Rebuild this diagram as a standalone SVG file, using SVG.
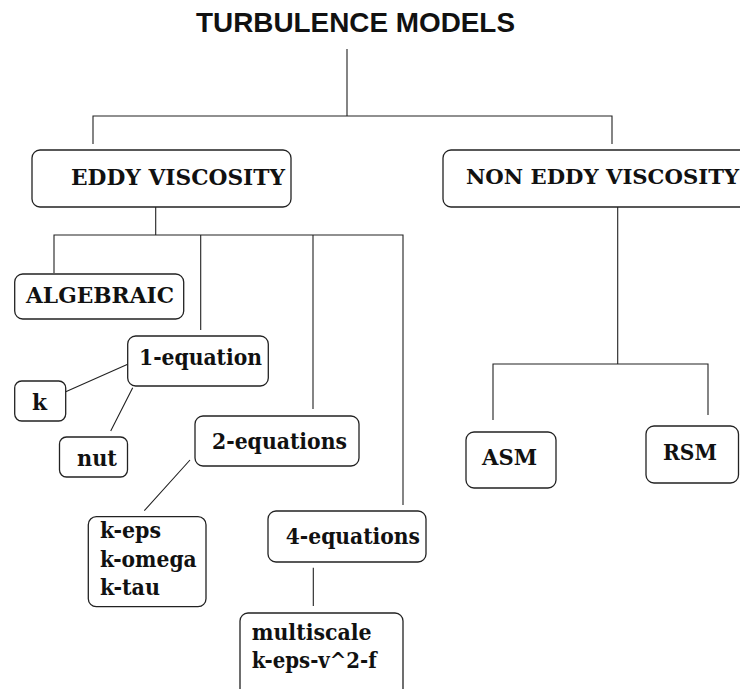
<svg xmlns="http://www.w3.org/2000/svg" width="740" height="689" viewBox="0 0 740 689">
<style>
.box{fill:#fff;stroke:#222;stroke-width:1.3}
.lbl{font-family:"DejaVu Serif","Liberation Serif",serif;font-weight:bold;font-size:22px;fill:#111}
.title{font-family:"Liberation Sans",Arial,sans-serif;font-weight:bold;font-size:28px;fill:#111}
.conn{fill:none;stroke:#222;stroke-width:1.1}
</style>
<rect width="740" height="689" fill="#fff"/>
<g id="title"><text class="title" x="196" y="32" textLength="319" lengthAdjust="spacingAndGlyphs">TURBULENCE MODELS</text></g>
<g id="connectors">
<path class="conn" d="M347,49 V116 M93,144 V116 H612 V144"/>
<path class="conn" d="M155.7,207 V235 M54,273 V235 H403 V505 M200.7,235 V330 M313,235 V409"/>
<path class="conn" d="M65.7,391.7 L127.7,364.3 M132.7,387.7 L110.7,431 M190,460 L144.3,510.7 M313.3,567.7 V606"/>
<path class="conn" d="M617.7,207 V364 M493,420 V364 H708 V415"/>
</g>
<g id="eddy"><rect class="box" x="32" y="150" width="259" height="57" rx="8"/><text class="lbl" x="71" y="185" textLength="214" lengthAdjust="spacingAndGlyphs">EDDY VISCOSITY</text></g>
<g id="noneddy"><rect class="box" x="443" y="150" width="305" height="57" rx="8"/><text class="lbl" x="466" y="184" style="font-size:21.2px">NON EDDY VISCOSITY</text></g>
<g id="algebraic"><rect class="box" x="14.7" y="274" width="169" height="45" rx="8"/><text class="lbl" x="26" y="302.5" textLength="148" lengthAdjust="spacingAndGlyphs">ALGEBRAIC</text></g>
<g id="eq1"><rect class="box" x="127.7" y="336" width="140.6" height="50" rx="8"/><text class="lbl" x="139" y="365" textLength="123" lengthAdjust="spacingAndGlyphs">1-equation</text></g>
<g id="k"><rect class="box" x="14.7" y="381" width="51" height="40" rx="7"/><text class="lbl" x="32" y="410" textLength="15" lengthAdjust="spacingAndGlyphs">k</text></g>
<g id="nut"><rect class="box" x="59.5" y="437" width="68" height="40" rx="7"/><text class="lbl" x="77" y="466" textLength="40" lengthAdjust="spacingAndGlyphs">nut</text></g>
<g id="eq2"><rect class="box" x="195" y="416" width="164" height="50" rx="8"/><text class="lbl" x="212" y="449" textLength="135" lengthAdjust="spacingAndGlyphs">2-equations</text></g>
<g id="twoeqmodels"><rect class="box" x="88.3" y="516.7" width="117.7" height="90" rx="8"/>
<text class="lbl" x="100" y="538.3" textLength="61" lengthAdjust="spacingAndGlyphs">k-eps</text>
<text class="lbl" x="100" y="566.7" textLength="96.7" lengthAdjust="spacingAndGlyphs">k-omega</text>
<text class="lbl" x="100" y="595" textLength="60" lengthAdjust="spacingAndGlyphs">k-tau</text></g>
<g id="eq4"><rect class="box" x="268" y="511" width="158" height="51" rx="8"/><text class="lbl" x="285.7" y="544" textLength="134.3" lengthAdjust="spacingAndGlyphs">4-equations</text></g>
<g id="fourmodels"><rect class="box" x="240" y="613" width="163" height="85" rx="8"/>
<text class="lbl" x="251.7" y="640" textLength="120" lengthAdjust="spacingAndGlyphs">multiscale</text>
<text class="lbl" x="251.7" y="668.3" textLength="125" lengthAdjust="spacingAndGlyphs">k-eps-v^2-f</text></g>
<g id="asm"><rect class="box" x="466" y="432" width="90" height="56" rx="8"/><text class="lbl" x="482" y="465" textLength="55" lengthAdjust="spacingAndGlyphs">ASM</text></g>
<g id="rsm"><rect class="box" x="646" y="426" width="92.5" height="57" rx="8"/><text class="lbl" x="663" y="460" textLength="54" lengthAdjust="spacingAndGlyphs">RSM</text></g>
</svg>
